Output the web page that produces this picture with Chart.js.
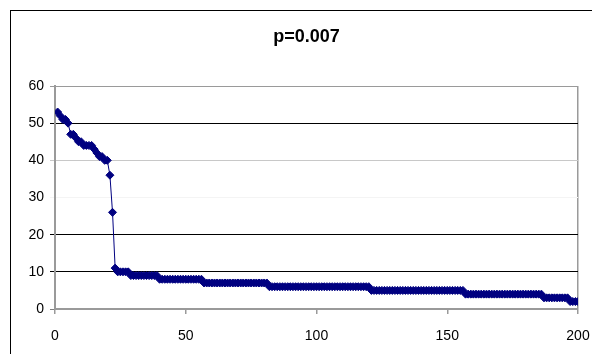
<!DOCTYPE html>
<html>
<head>
<meta charset="utf-8">
<script src="https://cdn.jsdelivr.net/npm/chart.js@4/dist/chart.umd.min.js"></script>
<style>
  html, body { margin: 0; padding: 0; background: #fff; overflow: hidden; }
  #wrap { position: relative; width: 592px; height: 354px; }
  #frame { position: absolute; left: 10px; top: 10px; width: 700px; height: 500px;
           border-left: 1px solid #000; border-top: 1px solid #000; pointer-events: none; }
</style>
</head>
<body>
<div id="wrap">
  <canvas id="rankChart"></canvas>
  <div id="frame"></div>
</div>
<script>
var chartTitle = 'p=0.007';

// counts, one per rank (rank 1..200)
var counts = [
  53, 52, 51, 51, 50, 47, 47, 46, 45, 45,
  44, 44, 44, 44, 43, 42, 41, 41, 40, 40,
  36, 26, 11, 10, 10, 10, 10, 10, 9, 9,
  9, 9, 9, 9, 9, 9, 9, 9, 9, 8,
  8, 8, 8, 8, 8, 8, 8, 8, 8, 8,
  8, 8, 8, 8, 8, 8, 7, 7, 7, 7,
  7, 7, 7, 7, 7, 7, 7, 7, 7, 7,
  7, 7, 7, 7, 7, 7, 7, 7, 7, 7,
  7, 6, 6, 6, 6, 6, 6, 6, 6, 6,
  6, 6, 6, 6, 6, 6, 6, 6, 6, 6,
  6, 6, 6, 6, 6, 6, 6, 6, 6, 6,
  6, 6, 6, 6, 6, 6, 6, 6, 6, 6,
  5, 5, 5, 5, 5, 5, 5, 5, 5, 5,
  5, 5, 5, 5, 5, 5, 5, 5, 5, 5,
  5, 5, 5, 5, 5, 5, 5, 5, 5, 5,
  5, 5, 5, 5, 5, 5, 4, 4, 4, 4,
  4, 4, 4, 4, 4, 4, 4, 4, 4, 4,
  4, 4, 4, 4, 4, 4, 4, 4, 4, 4,
  4, 4, 4, 4, 4, 4, 3, 3, 3, 3,
  3, 3, 3, 3, 3, 3, 2, 2, 2, 2
];

var xTicks = { min: 0, max: 200, step: 50 };
var yTicks = { min: 0, max: 60, step: 10 };

// grid line colour per y value
var yGridColor = { 0: '#808080', 10: '#000000', 20: '#000000', 30: '#f4f4f4', 40: '#c8c8c8', 50: '#000000', 60: '#9a9a9a' };

var points = counts.map((v, i) => ({ x: i + 1, y: v }));

// nudge the title block so it sits a little right of the canvas centre
var titleOverPlot = {
  id: 'titleOverPlot',
  afterLayout: function(chart) {
    if (chart.titleBlock) {
      chart.titleBlock.left = chart.chartArea.left - 24;
      chart.titleBlock.right = chart.chartArea.right + 4;
    }
  }
};

var ctx = document.getElementById('rankChart').getContext('2d');
var chartInstance = new Chart(ctx, {
  type: 'line',
  data: {
    datasets: [{
      data: points,
      borderColor: '#000080',
      backgroundColor: '#000080',
      borderWidth: 1,
      pointStyle: 'rectRot',
      pointRadius: 4,
      pointBorderWidth: 1,
      pointBackgroundColor: '#000080',
      pointBorderColor: '#000080',
      tension: 0
    }]
  },
  options: {
    responsive: true,
    maintainAspectRatio: false,
    animation: false,
    layout: { padding: { left: 20, right: 14, top: 0, bottom: 0 } },
    plugins: {
      legend: { display: false },
      tooltip: { enabled: false },
      title: {
        display: true,
        text: chartTitle,
        color: '#000',
        font: { family: 'Arial, "Liberation Sans"', size: 18, weight: 'bold' },
        padding: { top: 26, bottom: 38.4 }
      }
    },
    scales: {
      x: {
        type: 'linear',
        min: xTicks.min,
        max: xTicks.max,
        afterFit: function(scale) {
          scale.height = 45;
          // let the end labels run past the plot edges
          scale.paddingLeft = 0;
          scale.paddingRight = 0;
        },
        ticks: {
          stepSize: xTicks.step,
          color: '#000',
          padding: 14,
          maxRotation: 0,
          font: { family: 'Arial, "Liberation Sans"', size: 14 }
        },
        grid: {
          color: c => (c.tick && c.tick.value === 200 ? '#9a9a9a' : 'rgba(0,0,0,0)'),
          lineWidth: 1.5,
          tickColor: '#9a9a9a',
          tickLength: 5
        },
        border: { color: '#9a9a9a', width: 2 }
      },
      y: {
        min: yTicks.min,
        max: yTicks.max,
        afterFit: function(scale) { scale.width = 35; },
        ticks: {
          stepSize: yTicks.step,
          color: '#000',
          padding: 6,
          font: { family: 'Arial, "Liberation Sans"', size: 14 }
        },
        grid: {
          color: c => (c.tick ? yGridColor[c.tick.value] : 'rgba(0,0,0,0)'),
          lineWidth: 1,
          tickLength: 5
        },
        border: { color: '#9a9a9a', width: 2 }
      }
    }
  },
  plugins: [titleOverPlot]
});
</script>
</body>
</html>
